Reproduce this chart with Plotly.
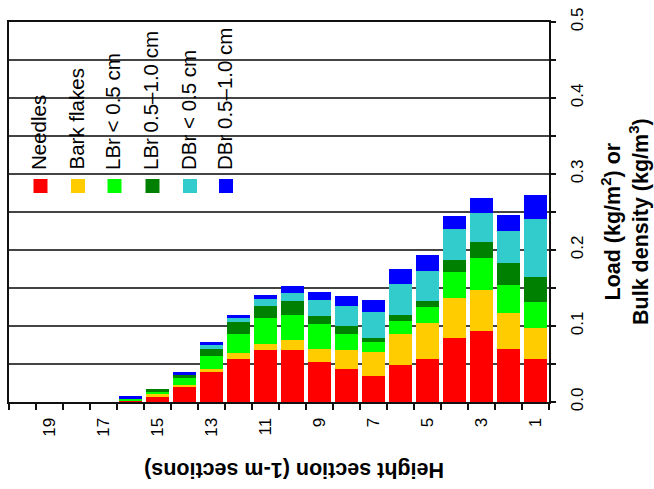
import plotly.graph_objects as go

# Height sections (1 = lowest) and component loads (kg/m^2 or kg/m^3)
sections = list(range(1, 21))
series_names = ["Needles", "Bark flakes", "LBr < 0.5 cm", "LBr 0.5\u20131.0 cm",
                "DBr < 0.5 cm", "DBr 0.5\u20131.0 cm"]
series_colors = ["#FF0000", "#FFCC00", "#00FF00", "#008000", "#33CCCC", "#0000FF"]

needles = [0.057, 0.070, 0.094, 0.084, 0.057, 0.049, 0.034, 0.044, 0.052, 0.068,
           0.068, 0.057, 0.039, 0.020, 0.007, 0.001, 0, 0, 0, 0]
bark = [0.040, 0.047, 0.053, 0.053, 0.047, 0.040, 0.032, 0.024, 0.018, 0.013,
        0.008, 0.008, 0.005, 0.003, 0.003, 0, 0, 0, 0, 0]
lbr_small = [0.034, 0.037, 0.042, 0.034, 0.021, 0.018, 0.013, 0.021, 0.032, 0.034,
             0.034, 0.024, 0.016, 0.008, 0.003, 0.003, 0, 0, 0, 0]
lbr_large = [0.034, 0.029, 0.021, 0.016, 0.008, 0.008, 0.005, 0.011, 0.011, 0.018,
             0.016, 0.016, 0.010, 0.005, 0.0035, 0, 0, 0, 0, 0]
dbr_small = [0.076, 0.042, 0.039, 0.040, 0.039, 0.040, 0.034, 0.026, 0.021, 0.011,
             0.010, 0.005, 0.005, 0, 0, 0.0005, 0, 0, 0, 0]
dbr_large = [0.032, 0.021, 0.020, 0.018, 0.021, 0.020, 0.016, 0.013, 0.011, 0.009,
             0.005, 0.005, 0.004, 0.003, 0, 0.003, 0, 0, 0, 0]
series_values = [needles, bark, lbr_small, lbr_large, dbr_small, dbr_large]

x_tick_vals = [19, 17, 15, 13, 11, 9, 7, 5, 3, 1]
x_tick_text = [str(v) for v in x_tick_vals]
y_tick_vals = [i * 0.05 for i in range(11)]
y_tick_text = ["0.0", "", "0.1", "", "0.2", "", "0.3", "", "0.4", "", "0.5"]

FONT = "Liberation Sans, Arial, Helvetica, sans-serif"

fig = go.Figure()
for name, vals, col in zip(series_names, series_values, series_colors):
    fig.add_trace(go.Bar(x=sections, y=vals, name=name, marker=dict(color=col, line=dict(width=0)),
                         showlegend=False))

# plot area in pixels
L, R, T, B = 9, 549, 22, 402
W, H = 654, 489

def px_x(p):
    return (p - L) / (R - L)

def px_y(p):
    return (B - p) / (B - T)

fig.update_layout(
    width=W, height=H,
    margin=dict(l=L, r=W - R, t=T, b=H - B, autoexpand=False),
    paper_bgcolor="white", plot_bgcolor="white",
    barmode="stack", bargap=0.15, showlegend=False,
    font=dict(family=FONT, color="black"),
    xaxis=dict(
        range=[20.5, 0.5], tickmode="array", tickvals=x_tick_vals, ticktext=x_tick_text,
        tickangle=-90, ticks="", showgrid=False, zeroline=False, automargin=False,
        showline=True, linecolor="#111", linewidth=2, mirror=True,
        tickfont=dict(size=17, family=FONT), ticklabelstandoff=7,
        minor=dict(tickmode="array", tickvals=[i + 0.5 for i in range(21)], ticks="outside",
                   ticklen=6, tickwidth=1.5, tickcolor="#111", showgrid=False),
    ),
    yaxis=dict(
        range=[0, 0.5], side="right", tickmode="array", tickvals=y_tick_vals, ticktext=y_tick_text,
        tickangle=-90, ticks="outside", ticklen=5, tickwidth=1.5, tickcolor="#111",
        showgrid=True, gridcolor="#444", gridwidth=1.5, zeroline=False, automargin=False,
        showline=True, linecolor="#111", linewidth=2, mirror=True,
        tickfont=dict(size=17, family=FONT), ticklabelstandoff=7,
    ),
)

# white legend background hiding the gridlines
shapes = [dict(type="rect", xref="paper", yref="paper", x0=px_x(20), x1=px_x(247),
               y0=px_y(197), y1=px_y(24), fillcolor="white", line=dict(width=0), layer="between")]
leg_x = [40.5, 78, 114.5, 152.5, 190, 226]
annotations = []
for cx, name, col in zip(leg_x, series_names, series_colors):
    shapes.append(dict(type="rect", xref="paper", yref="paper", x0=px_x(cx - 7), x1=px_x(cx + 7),
                       y0=px_y(193), y1=px_y(179), fillcolor=col, line=dict(width=0), layer="above"))
    annotations.append(dict(text=name, xref="paper", yref="paper", x=px_x(cx - 2), y=px_y(172),
                            xanchor="center", yanchor="bottom", textangle=-90, showarrow=False,
                            font=dict(size=20.5, family=FONT, color="black")))

# axis titles
annotations.append(dict(text="<b>Height section (1-m sections)</b>", xref="paper", yref="paper",
                        x=px_x(294), y=px_y(470), xanchor="center", yanchor="middle", textangle=180,
                        showarrow=False, font=dict(size=21.5, family=FONT, color="black")))
annotations.append(dict(text="<b>Load (kg/m<sup>2</sup>) or<br>Bulk density (kg/m<sup>3</sup>)</b>",
                        xref="paper", yref="paper", x=px_x(625), y=px_y(222), xanchor="center",
                        yanchor="middle", textangle=-90, showarrow=False,
                        font=dict(size=21.5, family=FONT, color="black")))

fig.update_layout(shapes=shapes, annotations=annotations)
fig.write_html("out.html", config={"displayModeBar": False},
               post_script="document.body.style.margin='0px';document.body.style.padding='0px';")
